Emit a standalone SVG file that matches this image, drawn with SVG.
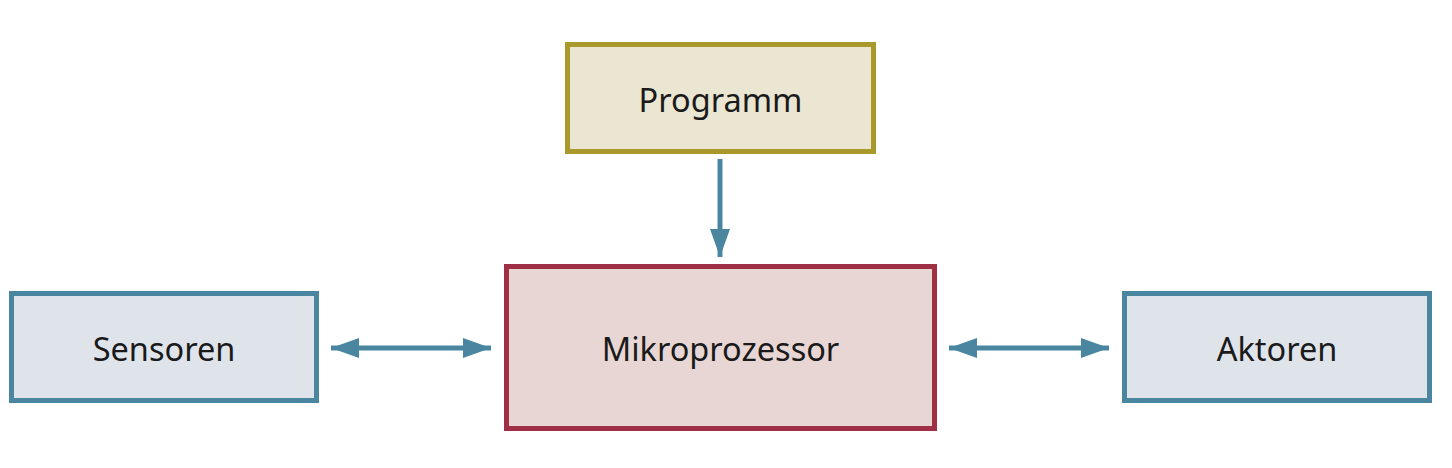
<svg xmlns="http://www.w3.org/2000/svg" width="1452" height="468" viewBox="0 0 1452 468">
<defs>
<style>
.lbl{font-family:"Noto Sans","Open Sans",sans-serif;font-size:32.5px;fill:#1a1a1a;text-anchor:middle;dominant-baseline:central}
.con{stroke:#4a86a0;stroke-width:5;fill:none}
</style>
<marker id="ah" markerUnits="userSpaceOnUse" markerWidth="28" markerHeight="20" refX="28" refY="10" orient="auto-start-reverse">
<path d="M0,0 L28,10 L0,20 Z" fill="#4a86a0"/>
</marker>
</defs>
<rect width="1452" height="468" fill="#ffffff"/>
<g id="connectors">
<path class="con" d="M720,159 L720,257" marker-end="url(#ah)"/>
<path class="con" d="M331,348 L491,348" marker-start="url(#ah)" marker-end="url(#ah)"/>
<path class="con" d="M949,348 L1109,348" marker-start="url(#ah)" marker-end="url(#ah)"/>
</g>
<g id="programm">
<rect x="567.5" y="44.5" width="306" height="107" fill="#ebe6d1" stroke="#a8992a" stroke-width="5"/>
<text class="lbl" x="720.5" y="99">Programm</text>
</g>
<g id="sensoren">
<rect x="11.5" y="293.5" width="305" height="107" fill="#dfe4eb" stroke="#4a86a0" stroke-width="5"/>
<text class="lbl" x="164" y="348">Sensoren</text>
</g>
<g id="mikroprozessor">
<rect x="506.5" y="266.5" width="428" height="162" fill="#e8d6d4" stroke="#9e2f45" stroke-width="5"/>
<text class="lbl" x="720.5" y="348">Mikroprozessor</text>
</g>
<g id="aktoren">
<rect x="1124.5" y="293.5" width="305" height="107" fill="#dfe4eb" stroke="#4a86a0" stroke-width="5"/>
<text class="lbl" x="1277" y="348">Aktoren</text>
</g>
</svg>
